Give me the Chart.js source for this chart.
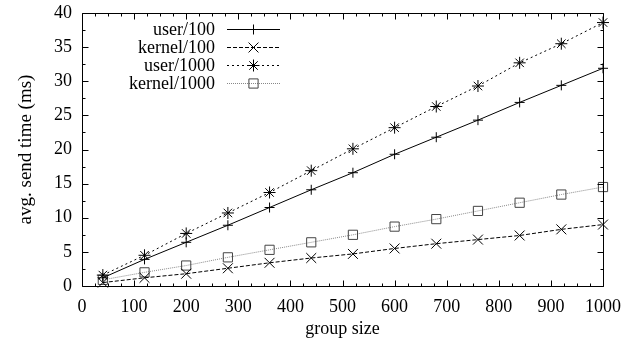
<!DOCTYPE html>
<html>
<head>
<meta charset="utf-8">
<script src="https://cdn.jsdelivr.net/npm/chart.js@4.4.1/dist/chart.umd.min.js"></script>
<style>
  html, body { margin: 0; padding: 0; background: #fff; }
  #wrap { width: 636px; height: 343px; position: relative; }
</style>
</head>
<body>
<div id="wrap"><canvas id="chart"></canvas></div>
<script>
const groupSizes = [40, 120, 200, 280, 360, 440, 520, 600, 680, 760, 840, 920, 1000];
const user100 = [1.2, 3.9, 6.4, 8.9, 11.5, 14.1, 16.6, 19.3, 21.8, 24.3, 26.9, 29.4, 31.9];
const kernel100 = [0.5, 1.2, 1.8, 2.6, 3.4, 4.1, 4.7, 5.5, 6.2, 6.8, 7.4, 8.3, 9.0];
const user1000 = [1.6, 4.5, 7.7, 10.7, 13.7, 16.9, 20.1, 23.2, 26.3, 29.3, 32.7, 35.5, 38.6];
const kernel1000 = [0.9, 2.0, 3.0, 4.2, 5.3, 6.4, 7.5, 8.7, 9.8, 11.0, 12.2, 13.4, 14.5];
const seriesNames = ['user/100', 'kernel/100', 'user/1000', 'kernel/1000'];
const xTickValues = [0, 100, 200, 300, 400, 500, 600, 700, 800, 900, 1000];
const yTickValues = [0, 5, 10, 15, 20, 25, 30, 35, 40];

const FONT = '"Liberation Serif", "Times New Roman", serif';

function toPoints(values) {
    return groupSizes.map((g, i) => ({ x: g, y: values[i] }));
}

// gnuplot style frame with inward ticks on all four sides
const framePlugin = {
    id: 'gnuFrame',
    afterDatasetsDraw(chart) {
        const ctx = chart.ctx;
        const a = chart.chartArea;
        const xs = chart.scales.x, ys = chart.scales.y;
        const L = Math.round(a.left) + 0.5, R = Math.round(a.right) + 0.5;
        const T = Math.round(a.top) + 0.5, B = Math.round(a.bottom) + 0.5;
        ctx.save();
        ctx.strokeStyle = '#000';
        ctx.lineWidth = 1;
        ctx.setLineDash([]);
        ctx.beginPath();
        ctx.rect(L, T, R - L, B - T);

        const xTick = (v, len) => {
            const px = Math.round(xs.getPixelForValue(v)) + 0.5;
            ctx.moveTo(px, B); ctx.lineTo(px, B - len);
            ctx.moveTo(px, T); ctx.lineTo(px, T + len);
        };
        const yTick = (v, len) => {
            const py = Math.round(ys.getPixelForValue(v)) + 0.5;
            ctx.moveTo(L, py); ctx.lineTo(L + len, py);
            ctx.moveTo(R, py); ctx.lineTo(R - len, py);
        };
        xTickValues.forEach((v, i) => {
            xTick(v, 6);
            if (i < xTickValues.length - 1) {
                const step = (xTickValues[i + 1] - v) / 4;
                for (let k = 1; k < 4; k++) xTick(v + k * step, 3);
            }
        });
        yTickValues.forEach((v, i) => {
            yTick(v, 6);
            if (i < yTickValues.length - 1) yTick((v + yTickValues[i + 1]) / 2, 3);
        });
        ctx.stroke();
        ctx.restore();
    }
};

// key in the top left: right aligned text, sample line with the marker
const legendPlugin = {
    id: 'gnuLegend',
    afterDraw(chart) {
        const ctx = chart.ctx;
        const a = chart.chartArea;
        const textRight = a.left + 133;
        const lineStart = a.left + 145, lineEnd = a.left + 198;
        ctx.save();
        ctx.font = '18px ' + FONT;
        ctx.textAlign = 'right';
        ctx.textBaseline = 'middle';
        chart.data.datasets.forEach((ds, i) => {
            const y = Math.round(a.top + 15.5 + i * 18.3) + 0.5;
            ctx.fillStyle = '#000';
            ctx.fillText(ds.label, textRight, y + 1);
            ctx.strokeStyle = ds.borderColor;
            ctx.lineWidth = 1;
            ctx.setLineDash(ds.borderDash || []);
            ctx.beginPath();
            ctx.moveTo(lineStart, y);
            ctx.lineTo(lineEnd, y);
            ctx.stroke();
            ctx.setLineDash([]);
            ctx.strokeStyle = ds.pointBorderColor;
            ctx.fillStyle = 'rgba(0,0,0,0)';
            Chart.helpers.drawPoint(ctx, {
                pointStyle: ds.pointStyle,
                radius: ds.pointRadius,
                rotation: 0,
                borderWidth: 1
            }, (lineStart + lineEnd) / 2, y);
        });
        ctx.restore();
    }
};

// invisible tick marks only used to push the labels away from the axis
const hiddenGrid = {
    display: true,
    drawOnChartArea: false,
    drawTicks: true,
    tickLength: 10,
    color: 'rgba(0,0,0,0)'
};

const ctx = document.getElementById('chart').getContext('2d');

new Chart(ctx, {
    type: 'line',
    data: {
        datasets: [{
            label: seriesNames[0],
            data: toPoints(user100),
            borderColor: '#000',
            borderDash: [],
            pointStyle: 'cross',
            pointRadius: 5,
            pointBorderColor: '#000'
        }, {
            label: seriesNames[1],
            data: toPoints(kernel100),
            borderColor: '#000',
            borderDash: [4, 2],
            pointStyle: 'crossRot',
            pointRadius: 7,
            pointBorderColor: '#000'
        }, {
            label: seriesNames[2],
            data: toPoints(user1000),
            borderColor: '#000',
            borderDash: [2, 3],
            pointStyle: 'star',
            pointRadius: 6,
            pointBorderColor: '#000'
        }, {
            label: seriesNames[3],
            data: toPoints(kernel1000),
            borderColor: '#888',
            borderDash: [1, 1],
            pointStyle: 'rect',
            pointRadius: 6.5,
            pointBorderColor: '#444'
        }].map(ds => Object.assign(ds, {
            borderWidth: 1,
            pointBorderWidth: 1,
            pointBackgroundColor: 'rgba(0,0,0,0)',
            fill: false,
            tension: 0,
            clip: false
        }))
    },
    options: {
        responsive: true,
        maintainAspectRatio: false,
        devicePixelRatio: 1,
        animation: false,
        layout: {
            padding: { top: 13, right: 33, left: 0, bottom: 0 }
        },
        plugins: {
            legend: { display: false },
            tooltip: { enabled: false }
        },
        scales: {
            x: {
                type: 'linear',
                min: 0,
                max: 1000,
                afterBuildTicks: s => { s.ticks = xTickValues.map(v => ({ value: v })); },
                afterFit: s => { s.height = 57; },
                grid: hiddenGrid,
                border: { display: false },
                ticks: {
                    color: '#000',
                    font: { family: FONT, size: 18 },
                    padding: 0,
                    maxRotation: 0,
                    autoSkip: false,
                    callback: v => String(v)
                },
                title: {
                    display: true,
                    text: 'group size',
                    color: '#000',
                    font: { family: FONT, size: 18 },
                    padding: { top: 0, bottom: 3 }
                }
            },
            y: {
                type: 'linear',
                min: 0,
                max: 40,
                afterBuildTicks: s => { s.ticks = yTickValues.map(v => ({ value: v })); },
                afterFit: s => { s.width = 82; },
                grid: hiddenGrid,
                border: { display: false },
                ticks: {
                    color: '#000',
                    font: { family: FONT, size: 18 },
                    padding: 0,
                    callback: v => String(v)
                },
                title: {
                    display: true,
                    text: 'avg. send time (ms)',
                    color: '#000',
                    font: { family: FONT, size: 19 },
                    padding: { top: 15, bottom: 0 }
                }
            }
        }
    },
    plugins: [framePlugin, legendPlugin]
});
</script>
</body>
</html>
